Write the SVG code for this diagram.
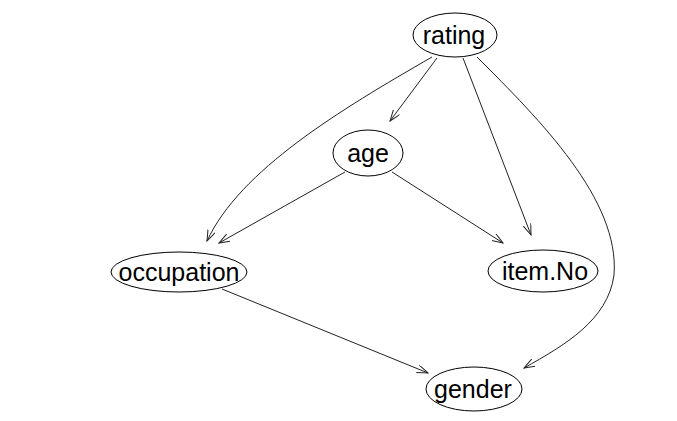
<svg xmlns="http://www.w3.org/2000/svg" width="677" height="421" viewBox="0 0 677 421">
<style>
.n ellipse{fill:#fff;stroke:#000;stroke-width:1}
.n text{font-family:"Liberation Sans",Arial,sans-serif;font-size:25px;fill:#000;text-anchor:middle}
.e path{fill:none;stroke:#222;stroke-width:1;marker-end:url(#ah)}
</style>
<defs>
<marker id="ah" markerUnits="userSpaceOnUse" markerWidth="12" markerHeight="10" refX="11" refY="4" orient="auto">
<path d="M0,0 L11,4 L0,8" fill="none" stroke="#222" stroke-width="1"/>
</marker>
</defs>
<rect width="677" height="421" fill="#fff"/>
<g id="edges" class="e">
<path d="M432,57 C340,110 240,170 207,241"/>
<path d="M437,58 L390,121"/>
<path d="M463,58 L531,235"/>
<path d="M477,57 C540,120 620,200 614,275 C608,320 565,345 524,368"/>
<path d="M345,172 L219,243"/>
<path d="M392,172 L503,243"/>
<path d="M222,289 L428,373"/>
</g>
<g id="rating" class="n"><ellipse cx="455" cy="35" rx="42" ry="22"/><text x="454" y="44">rating</text></g>
<g id="age" class="n"><ellipse cx="368" cy="153" rx="35" ry="23"/><text x="368" y="162">age</text></g>
<g id="occupation" class="n"><ellipse cx="179" cy="272" rx="68" ry="20"/><text x="179" y="281">occupation</text></g>
<g id="itemNo" class="n"><ellipse cx="543" cy="271" rx="55" ry="21"/><text x="545" y="280">item.No</text></g>
<g id="gender" class="n"><ellipse cx="474" cy="389" rx="48" ry="22"/><text x="473" y="398">gender</text></g>
</svg>
